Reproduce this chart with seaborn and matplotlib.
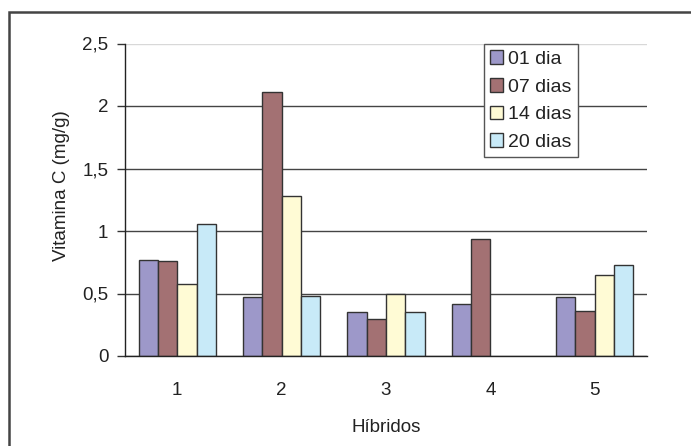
import matplotlib
matplotlib.use("Agg")
import matplotlib.pyplot as plt
import seaborn as sns
import pandas as pd
import numpy as np
from matplotlib.patches import Rectangle

# Vitamin C content per hybrid and storage time
hibridos = ["1", "2", "3", "4", "5"]
periodos = ["01 dia", "07 dias", "14 dias", "20 dias"]
dia_01 = [0.77, 0.47, 0.35, 0.42, 0.47]
dias_07 = [0.76, 2.11, 0.30, 0.94, 0.36]
dias_14 = [0.58, 1.28, 0.50, np.nan, 0.65]
dias_20 = [1.06, 0.48, 0.35, np.nan, 0.73]

y_ticks = [0, 0.5, 1, 1.5, 2, 2.5]
y_tick_labels = ["0", "0,5", "1", "1,5", "2", "2,5"]

cores = ["#9D98C9", "#A37173", "#FFFBD5", "#C8EAF8"]

rows = []
for periodo, valores in zip(periodos, [dia_01, dias_07, dias_14, dias_20]):
    for h, v in zip(hibridos, valores):
        rows.append({"Híbridos": h, "Período": periodo, "Vitamina C": v})
df = pd.DataFrame(rows)

sns.set_style("white")
plt.rcParams["font.family"] = ["Liberation Sans", "DejaVu Sans"]
plt.rcParams["text.color"] = "#222222"
plt.rcParams["axes.labelcolor"] = "#222222"
plt.rcParams["xtick.color"] = "#222222"
plt.rcParams["ytick.color"] = "#222222"

fig = plt.figure(figsize=(6.91, 4.46), dpi=100)
ax = fig.add_axes([125 / 691, 1 - 356 / 446, (647 - 125) / 691, (356 - 43.5) / 446])

sns.barplot(data=df, x="Híbridos", y="Vitamina C", hue="Período",
            hue_order=periodos, order=hibridos, palette=cores,
            width=0.74, edgecolor="#333333", linewidth=1.0,
            saturation=1, ax=ax, legend=True)

ax.set_xlim(-0.5, 4.5)
ax.set_ylim(0, 2.5)
ax.set_yticks(y_ticks)
ax.set_yticklabels(y_tick_labels, fontsize=13.5)

# category labels without tick marks; tick marks on the group boundaries
ax.set_xticks(range(len(hibridos)))
ax.set_xticklabels(hibridos, fontsize=13.5)
ax.tick_params(axis="x", which="major", length=0, pad=19)
ax.set_xticks(np.arange(-0.5, len(hibridos), 1.0), minor=True)
ax.tick_params(axis="x", which="minor", length=5, width=1, color="#333333",
               direction="out")
ax.tick_params(axis="y", which="major", length=6, width=1, color="#333333",
               direction="out", pad=6, left=True)

ax.set_axisbelow(True)
ax.grid(axis="y", color="#444444", linewidth=1.0)
ax.get_ygridlines()[-1].set_color("#d8d8d8")

for side in ["top", "right"]:
    ax.spines[side].set_visible(False)
for side in ["left", "bottom"]:
    ax.spines[side].set_color("#222222")
    ax.spines[side].set_linewidth(1.0)

ax.set_xlabel("Híbridos", fontsize=13.5, labelpad=14)
ax.set_ylabel("Vitamina C (mg/g)", fontsize=13.5)
ax.yaxis.set_label_coords(-0.106, 0.545)

leg = ax.legend(loc="upper left", bbox_to_anchor=(484 / 691, 1 - 44.5 / 446),
                bbox_transform=fig.transFigure, fontsize=14, frameon=True,
                fancybox=False, framealpha=1, edgecolor="#555555",
                handlelength=0.7, handleheight=0.7, handletextpad=0.25,
                labelspacing=0.52, borderpad=0.3, borderaxespad=0)
leg.get_frame().set_linewidth(1.0)

# outer chart frame
fig.patches.append(Rectangle((9 / 691, -0.1), 1.2, 1 - 12 / 446 + 0.1,
                             transform=fig.transFigure, fill=False,
                             edgecolor="#444444", linewidth=1.8))

fig.savefig("out.png", dpi=100)
